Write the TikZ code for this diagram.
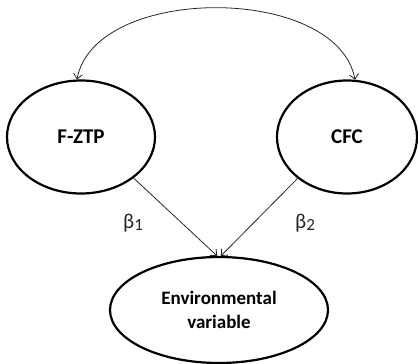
\documentclass[tikz,border=0pt]{standalone}
\usepackage{fontspec}
\setmainfont{Carlito}
\usetikzlibrary{shapes.geometric}
\usetikzlibrary{arrows.meta}
\tikzstyle{latent}=[draw, ellipse, line width=2.2pt, inner sep=0pt, font=\bfseries]
\tikzstyle{path}=[-{Straight Barb[length=5pt, width=9pt]}, line width=0.8pt, draw=black!85]
\tikzstyle{coef}=[font=\fontsize{21}{22}\selectfont, text=black!85]

\begin{document}
\begin{tikzpicture}[x=1pt, y=-1pt]
        \useasboundingbox (0, 0) rectangle (418, 364);
        \node[latent, minimum width=148pt, minimum height=113pt, font=\bfseries\fontsize{21}{22}\selectfont] (fztp) at (81, 137) {F-ZTP};
        \node[latent, minimum width=140pt, minimum height=113pt, font=\bfseries\fontsize{21}{22}\selectfont] (cfc) at (347, 137) {CFC};
        \node[latent, minimum width=218pt, minimum height=106pt, align=center, font=\bfseries\fontsize{19}{24}\selectfont] (env) at (219, 310) {Environmental\\variable};
        \node[coef] (b1) at (133, 223) {β\raisebox{-0.25ex}{\fontsize{17}{18}\selectfont 1}};
        \node[coef] (b2) at (305, 223) {β\raisebox{-0.25ex}{\fontsize{17}{18}\selectfont 2}};
        \draw[path] (fztp.-38) -- (env.92);
        \draw[path] (cfc.-140) -- (env.88);
        \draw[path, {Straight Barb[length=5pt, width=9pt]}-{Straight Barb[length=5pt, width=9pt]}] (fztp.94) .. controls (95, -16) and (337, -16) .. (cfc.82);
    \end{tikzpicture}
\end{document}
